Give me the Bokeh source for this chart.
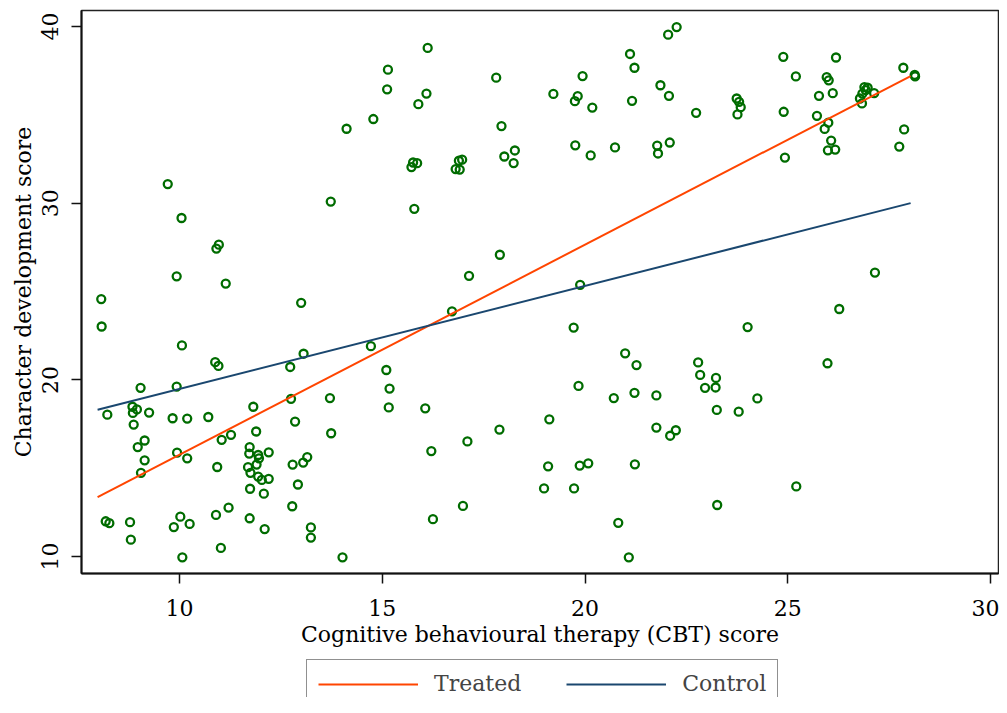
from bokeh.plotting import figure
from bokeh.models import Range1d, FixedTicker, Legend, LegendItem
from bokeh.layouts import column
from bokeh.embed import file_html
from bokeh.resources import INLINE

# ---- data ----
cbt_score = [
    9.71, 10.05, 10.97, 10.91, 9.93, 11.14, 13.73,
    8.07, 8.08, 13.0, 10.06, 10.88, 10.96, 12.73, 13.06, 9.04, 9.93, 8.22, 8.84, 8.95,
    8.85, 9.25, 8.87, 9.83, 10.19, 10.71, 11.82, 12.75, 13.71, 12.85, 11.89, 13.74, 9.14,
    8.97, 9.14, 9.05, 9.94, 10.19, 11.04, 11.27, 10.93,
    11.73, 11.72, 11.94, 12.20, 11.96, 11.90, 11.69, 11.75, 11.94, 12.03, 12.20, 11.74, 12.08,
    12.79, 13.05, 13.15, 12.92, 12.78, 8.18, 8.27, 8.78, 8.80, 10.02, 9.86, 10.25, 10.90,
    11.21, 11.73, 12.10, 13.24, 13.24, 11.02, 10.07, 14.02,
    16.12, 15.14, 15.12, 16.09, 15.89, 14.78, 14.12, 17.81, 17.94, 19.22, 19.94, 19.82,
    19.75, 20.18, 21.11, 21.22, 21.16, 21.86, 22.05, 22.07, 15.76, 15.86, 15.72, 16.97,
    16.89, 16.91, 16.81, 18.01, 18.27, 18.24, 19.76, 20.14, 20.74, 21.78, 21.80, 22.09,
    15.79, 17.90, 17.14, 19.88,
    22.26, 24.89, 26.19, 25.20, 25.96, 26.01, 27.85, 28.13, 28.14, 25.77, 26.11, 23.74,
    23.80, 23.84, 23.76, 22.74, 24.90, 25.72, 26.00, 25.91, 26.07, 25.99, 26.17, 26.78,
    26.89, 26.97, 26.84, 27.13, 26.83, 26.92, 27.87, 27.75, 24.93, 27.15,
    16.72, 14.72, 19.72, 15.10, 15.18, 15.16, 16.06, 16.21, 17.10, 17.89, 19.12, 19.09,
    19.87, 20.08, 18.99, 19.73, 16.25, 16.99, 20.99, 21.27, 19.84, 20.71, 21.22, 21.76,
    21.76, 22.10, 21.23, 20.82, 21.08,
    26.27, 24.01, 22.79, 22.84, 23.23, 22.96, 23.22, 25.98, 24.25, 23.25, 23.79, 22.24,
    25.21, 23.26,
]
char_score = [
    31.08, 29.16, 27.65, 27.43, 25.86, 25.45, 30.09,
    24.57, 23.02, 24.36, 21.95, 21.00, 20.79, 20.73, 21.48, 19.55, 19.62, 18.03, 18.48, 18.33,
    18.13, 18.15, 17.47, 17.83, 17.81, 17.90, 18.48, 18.93, 18.97, 17.64, 17.08, 16.98, 16.57,
    16.20, 15.45, 14.74, 15.88, 15.56, 16.61, 16.89, 15.07,
    16.20, 15.83, 15.75, 15.90, 15.56, 15.21, 15.06, 14.74, 14.53, 14.34, 14.40, 13.84, 13.56,
    15.21, 15.32, 15.63, 14.08, 12.85, 12.00, 11.89, 11.95, 10.96, 12.26, 11.67, 11.85, 12.36,
    12.77, 12.17, 11.56, 11.65, 11.08, 10.49, 9.96, 9.96,
    38.78, 37.55, 36.44, 36.20, 35.60, 34.76, 34.21, 37.10, 34.36, 36.18, 37.19, 36.05,
    35.77, 35.41, 38.44, 37.66, 35.79, 36.67, 39.53, 36.07, 32.30, 32.26, 32.04, 32.46,
    32.40, 31.90, 31.93, 32.64, 32.98, 32.27, 33.27, 32.70, 33.15, 33.26, 32.81, 33.43,
    29.68, 27.08, 25.89, 25.38,
    39.96, 38.28, 38.24, 37.17, 37.13, 36.95, 37.66, 37.26, 37.17, 36.07, 36.22, 35.92,
    35.73, 35.43, 35.02, 35.11, 35.17, 34.94, 34.55, 34.20, 33.54, 32.99, 33.03, 35.92,
    36.57, 36.53, 36.20, 36.22, 35.64, 36.40, 34.17, 33.20, 32.58, 26.07,
    23.88, 21.91, 22.96, 20.56, 19.51, 18.44, 18.39, 15.97, 16.52, 17.19, 17.77, 15.11,
    15.15, 15.28, 13.86, 13.86, 12.12, 12.87, 21.50, 20.84, 19.66, 18.97, 19.27, 19.12,
    17.30, 16.84, 15.22, 11.91, 9.96,
    24.01, 22.99, 20.99, 20.28, 20.11, 19.55, 19.57, 20.94, 18.95, 18.30, 18.20, 17.15,
    13.97, 12.92,
]
fit_x = [7.98, 28.03]
treated_fit = [13.37, 37.19]
control_fit = [18.31, 30.00]
series_names = ["Treated", "Control"]
x_ticks = [10, 15, 20, 25, 30]
y_ticks = [10, 20, 30, 40]

FONT = "DejaVu Serif"
FS = "22px"
GREEN = "#006c00"
ORANGE = "#ff4500"
NAVY = "#1a476f"

W = 999
H1 = 655
H2 = 42

p = figure(width=W, height=H1, output_backend="svg", toolbar_location=None,
           x_range=Range1d(7.583, 30.197), y_range=Range1d(9.045, 40.90),
           min_border_left=81, min_border_right=1, min_border_top=10,
           min_border_bottom=H1 - 573)
p.grid.visible = False
p.outline_line_color = "#222222"
p.outline_line_width = 1.5
p.background_fill_color = "white"
p.border_fill_color = "white"

for ax in (p.xaxis[0], p.yaxis[0]):
    ax.axis_line_color = "#111111"
    ax.axis_line_width = 2
    ax.major_tick_line_color = "#111111"
    ax.major_tick_line_width = 1.5
    ax.major_tick_out = 10
    ax.major_tick_in = 0
    ax.minor_tick_out = 0
    ax.minor_tick_in = 0
    ax.major_label_text_font = FONT
    ax.major_label_text_font_size = FS
    ax.major_label_text_color = "black"
    ax.axis_label_text_font = FONT
    ax.axis_label_text_font_size = FS
    ax.axis_label_text_font_style = "normal"
    ax.axis_label_text_color = "black"

p.xaxis.ticker = FixedTicker(ticks=x_ticks)
p.yaxis.ticker = FixedTicker(ticks=y_ticks)
p.xaxis.axis_label = "Cognitive behavioural therapy (CBT) score"
p.yaxis.axis_label = "Character development score"
p.yaxis.major_label_orientation = "vertical"
p.xaxis.major_label_standoff = 16
p.xaxis.axis_label_standoff = 3
p.yaxis.major_label_standoff = 13
p.yaxis.axis_label_standoff = 4

p.scatter(cbt_score, char_score, marker="circle", size=8, fill_color=None,
          line_color=GREEN, line_width=2.3)
p.line(fit_x, treated_fit, line_color=ORANGE, line_width=2)
p.line(fit_x, control_fit, line_color=NAVY, line_width=2)

# ---- legend strip (the box runs past the bottom edge, as in the reference) ----
p2 = figure(width=W, height=H2, output_backend="svg", toolbar_location=None,
            x_range=Range1d(0, 1), y_range=Range1d(0, 1),
            x_axis_location=None, y_axis_location=None,
            min_border_left=0, min_border_right=0, min_border_top=0, min_border_bottom=0)
p2.grid.visible = False
p2.outline_line_color = None
p2.background_fill_color = "white"
p2.border_fill_color = "white"
# legend proxies: same series, outside this strip's (empty) view
r_t = p2.line(fit_x, treated_fit, line_color=ORANGE, line_width=2)
r_c = p2.line(fit_x, control_fit, line_color=NAVY, line_width=2)

legend = Legend(items=[LegendItem(label=series_names[0], renderers=[r_t]),
                       LegendItem(label=series_names[1], renderers=[r_c])],
                orientation="horizontal", location=(225, -11),
                glyph_width=100, glyph_height=20, label_standoff=16, spacing=45,
                padding=11, margin=0,
                label_text_font=FONT, label_text_font_size=FS,
                border_line_color="#222222", border_line_width=1.5,
                background_fill_color="white", background_fill_alpha=1.0)
p2.add_layout(legend, "center")

layout = column(p, p2, spacing=0)
open("out.html", "w").write(file_html(layout, INLINE))
